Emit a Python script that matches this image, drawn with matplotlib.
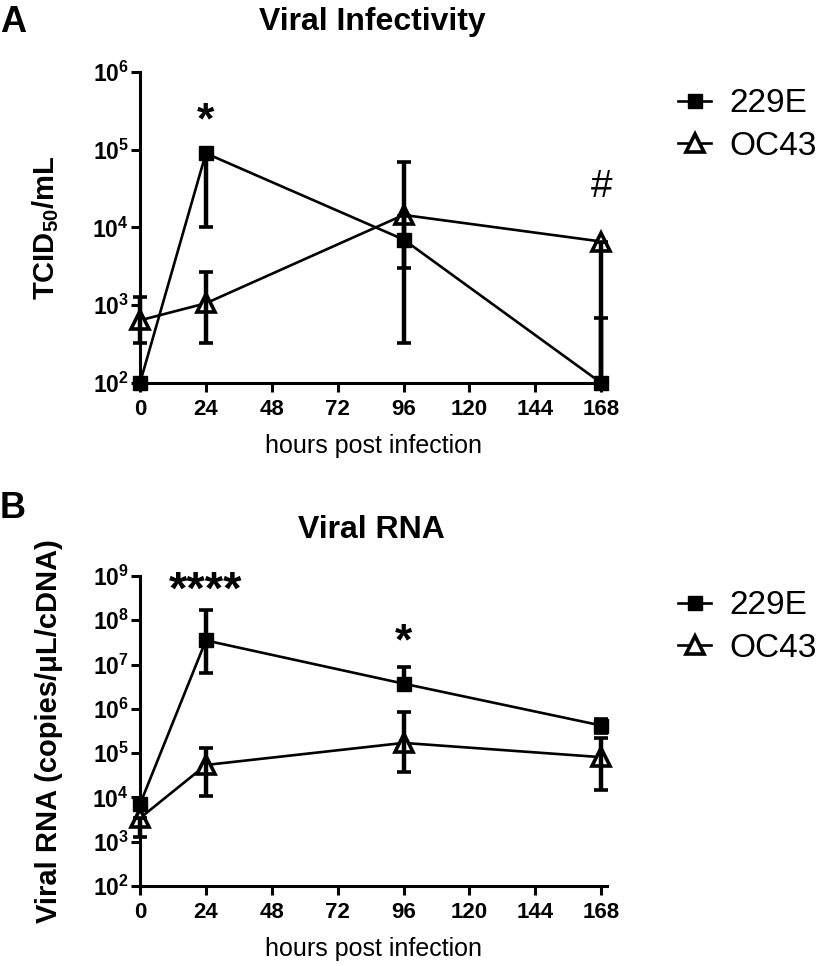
import matplotlib
matplotlib.use("Agg")
import matplotlib.pyplot as plt
import numpy as np

plt.rcParams['font.family'] = ['Liberation Sans', 'DejaVu Sans']
plt.rcParams['mathtext.fontset'] = 'custom'
plt.rcParams['mathtext.rm'] = 'Liberation Sans:bold'
plt.rcParams['mathtext.it'] = 'Liberation Sans:bold:italic'
plt.rcParams['mathtext.bf'] = 'Liberation Sans:bold'

# time points (hours post infection)
hours = [0, 24, 96, 168]
xticks = [0, 24, 48, 72, 96, 120, 144, 168]

# panel A: TCID50/mL
inf_229e = [100, 9.0e4, 7.0e3, 100]
inf_229e_lo = [100, 1.0e4, 330, 100]
inf_229e_hi = [100, 9.0e4, 1.4e4, 690]
inf_oc43 = [640, 1060, 1.45e4, 6.6e3]
inf_oc43_lo = [330, 330, 3.0e3, 100]
inf_oc43_hi = [1270, 2650, 7.0e4, 6.6e3]
yexp_a = [2, 3, 4, 5, 6]

# panel B: viral RNA copies
rna_229e = [7.0e3, 3.5e7, 3.7e6, 4.2e5]
rna_229e_lo = [7.0e3, 6.4e6, 3.7e6, 2.8e5]
rna_229e_hi = [7.0e3, 1.7e8, 8.8e6, 5.8e5]
rna_oc43 = [3.4e3, 5.4e4, 1.7e5, 8.1e4]
rna_oc43_lo = [1.27e3, 1.07e4, 3.7e4, 1.5e4]
rna_oc43_hi = [3.4e3, 1.3e5, 8.5e5, 2.2e5]
yexp_b = [2, 3, 4, 5, 6, 7, 8, 9]

fig = plt.figure(figsize=(8.19, 9.66), dpi=100)
axA = fig.add_axes([0.1709, 0.6035, 0.570, 0.322])
axB = fig.add_axes([0.1709, 0.0828, 0.570, 0.321])


def draw(ax, y1, lo1, hi1, y2, lo2, hi2):
    l1, = ax.plot(hours, y1, color='black', lw=1.9, marker='s', ms=10,
                  mfc='black', mec='black', clip_on=False, zorder=3, label='229E')
    l2, = ax.plot(hours, y2, color='black', lw=1.9, marker='^', ms=13,
                  mfc='white', mec='black', mew=2.6, clip_on=False, zorder=3,
                  label='OC43')
    for y, lo, hi in [(y1, lo1, hi1), (y2, lo2, hi2)]:
        y = np.array(y)
        err = [y - np.array(lo), np.array(hi) - y]
        eb = ax.errorbar(hours, y, yerr=err, fmt='none', ecolor='black',
                         elinewidth=3.2, capsize=4.8, capthick=2.6, zorder=4)
        for art in eb.lines[1] + eb.lines[2]:
            art.set_clip_on(False)
    return l1, l2


def style(ax, yexp, ylabel, ylx):
    ax.set_yscale('log')
    ax.set_xlim(0, 170)
    ax.set_ylim(10 ** yexp[0], 10 ** yexp[-1])
    ax.set_xticks(xticks)
    ax.set_xticklabels([str(t) for t in xticks], fontsize=16, fontweight='bold')
    ax.set_yticks([10 ** e for e in yexp])
    ax.set_yticklabels(['$10^{%d}$' % e for e in yexp], fontsize=16.5)
    ax.yaxis.set_minor_locator(matplotlib.ticker.NullLocator())
    for s in ['top', 'right']:
        ax.spines[s].set_visible(False)
    for s in ['left', 'bottom']:
        ax.spines[s].set_linewidth(2.2)
    ax.tick_params(axis='both', length=6.5, width=2.2, direction='out')
    ax.tick_params(axis='x', pad=5)
    ax.tick_params(axis='y', pad=1.5)
    ax.set_xlabel('hours post infection', fontsize=18)
    ax.xaxis.set_label_coords(0.5, -0.165)
    ax.set_ylabel(ylabel, fontsize=21, fontweight='bold', va='center')
    ax.yaxis.set_label_coords(ylx, 0.5)


hA = draw(axA, inf_229e, inf_229e_lo, inf_229e_hi, inf_oc43, inf_oc43_lo, inf_oc43_hi)
style(axA, yexp_a, 'TCID$_{50}$/mL', -0.202)
hB = draw(axB, rna_229e, rna_229e_lo, rna_229e_hi, rna_oc43, rna_oc43_lo, rna_oc43_hi)
style(axB, yexp_b, 'Viral RNA (copies/\u03bcL/cDNA)', -0.195)

# significance marks
axA.text(24, 2.3e5, '*', fontsize=32, fontweight='bold', ha='center', va='center')
axA.text(168, 3.3e4, '#', fontsize=28, ha='center', va='center')
axB.text(24, 4.4e8, '****', fontsize=34, fontweight='bold', ha='center', va='center')
axB.text(96, 3.0e7, '*', fontsize=32, fontweight='bold', ha='center', va='center')

for ax, h, yc in [(axA, hA, 1 - 125 / 966), (axB, hB, 1 - 627 / 966)]:
    ax.legend(h, [x.get_label() for x in h], loc='center left',
              bbox_to_anchor=(0.828, yc), bbox_transform=fig.transFigure,
              frameon=False, fontsize=24, handlelength=1.0, handletextpad=0.55,
              labelspacing=0.35, borderpad=0, borderaxespad=0)

fig.text(0.454, 0.977, 'Viral Infectivity', fontsize=23, fontweight='bold',
         ha='center', va='center')
fig.text(0.454, 1 - 530 / 966, 'Viral RNA', fontsize=23, fontweight='bold',
         ha='center', va='center')
fig.text(0.0, 0.977, 'A', fontsize=26, fontweight='bold', ha='left', va='center')
fig.text(0.0, 1 - 508 / 966, 'B', fontsize=26, fontweight='bold', ha='left', va='center')

fig.savefig('out.png', dpi=100)
